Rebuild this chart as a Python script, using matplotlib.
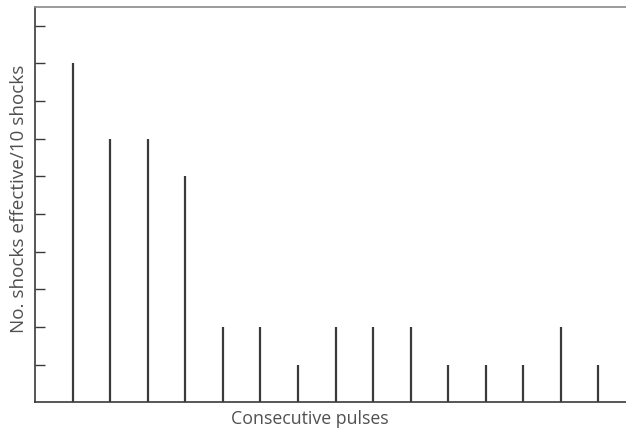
import matplotlib
matplotlib.use('Agg')
import matplotlib.pyplot as plt

# consecutive pulses 1..15, shocks effective per 10 shocks
pulses = list(range(1, 16))
effective = [9, 7, 7, 6, 2, 2, 1, 2, 2, 2, 1, 1, 1, 2, 1]
yticks = list(range(1, 11))

INK = '#3a3a3a'
TXT = '#505050'
plt.rcParams['font.family'] = ['Open Sans', 'DejaVu Sans']

fig = plt.figure(figsize=(6.26, 4.32), dpi=100)
ax = fig.add_axes([35/626, 29.7/432, 1 - 35/626 + 0.01, 395.3/432])

ax.vlines(pulses, 0, effective, color=INK, lw=1.6)

ax.set_xlim(0, 15.9)
ax.set_ylim(0, 10.5)
ax.set_xticks([])
ax.set_yticks(yticks)
ax.set_yticklabels([])
ax.tick_params(axis='y', direction='in', length=7.5, width=1.0, color=INK)

ax.spines['right'].set_visible(False)
ax.spines['left'].set_color(INK)
ax.spines['bottom'].set_color(INK)
ax.spines['left'].set_linewidth(1.2)
ax.spines['bottom'].set_linewidth(1.2)
ax.spines['top'].set_color('#8a8a8a')
ax.spines['top'].set_linewidth(1.2)

fig.text(310/626, 1 - 419/432, 'Consecutive pulses', ha='center', va='center',
         color=TXT, fontsize=12.8)
fig.text(19/626, 1 - 199/432, 'No. shocks effective/10 shocks', ha='center',
         va='center', rotation=90, color=TXT, fontsize=13.6)

fig.savefig('out.png', dpi=100)
